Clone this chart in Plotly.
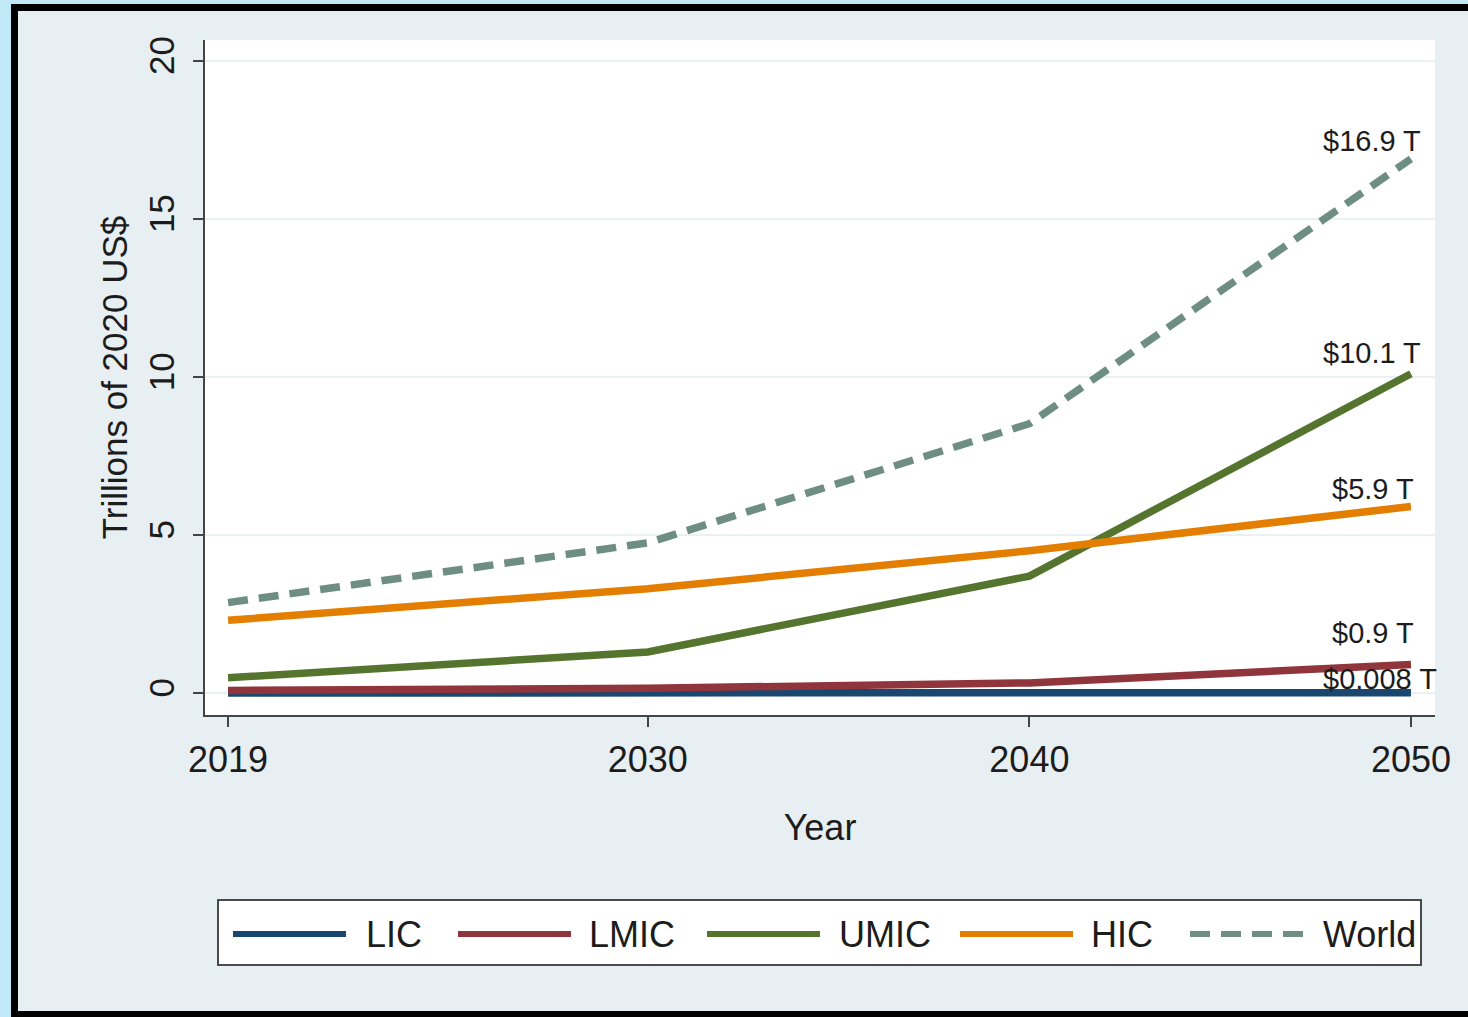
import plotly.graph_objects as go

# ---------------- data ----------------
years = [2019, 2030, 2040, 2050]
series_names = ["LIC", "LMIC", "UMIC", "HIC", "World"]
lic = [0.002, 0.004, 0.006, 0.008]
lmic = [0.08, 0.15, 0.32, 0.9]
umic = [0.48, 1.3, 3.7, 10.1]
hic = [2.3, 3.3, 4.5, 5.9]
world = [2.86, 4.75, 8.52, 16.9]
end_labels = ["$0.008 T", "$0.9 T", "$10.1 T", "$5.9 T", "$16.9 T"]
x_ticks = [2019, 2030, 2040, 2050]
y_ticks = [0, 5, 10, 15, 20]

series_values = [lic, lmic, umic, hic, world]

# ---------------- styles ----------------
colors = ["#1a476f", "#90353b", "#55752f", "#e37e00", "#6e8e84"]
dashes = ["solid", "solid", "solid", "solid", "20px,11px"]
FONT = "Liberation Sans, Arial, sans-serif"
TXT = "#1c1c1c"
W, H = 1468, 1017
L, R, T, B = 205, 33, 40, 302
PW, PH = W - L - R, H - T - B


def px(x):
    return (x - L) / PW


def py(y):
    return (H - B - y) / PH


fig = go.Figure()
for name, vals, c, d in zip(series_names, series_values, colors, dashes):
    fig.add_trace(go.Scatter(x=years, y=vals, mode="lines", name=name,
                             line=dict(color=c, width=7.5, dash=d),
                             showlegend=False))

# end-point labels (offsets in px)
label_shift = [(-31, 14), (-38, 32), (-39, 21), (-38, 18), (-39, 18)]
for vals, lab, (dx, dy) in zip(series_values, end_labels, label_shift):
    fig.add_annotation(x=years[-1], y=vals[-1], xref="x", yref="y", text=lab,
                       showarrow=False, xanchor="center", yanchor="middle",
                       xshift=dx, yshift=dy,
                       font=dict(family=FONT, size=29, color=TXT))

shapes = []
# outer frame
shapes.append(dict(type="rect", xref="paper", yref="paper", x0=px(0), x1=px(11),
                   y0=py(1017), y1=py(0), fillcolor="#c0e8f6", line_width=0, layer="below"))
shapes.append(dict(type="rect", xref="paper", yref="paper", x0=px(0), x1=px(W),
                   y0=py(4), y1=py(0), fillcolor="#c0e8f6", line_width=0, layer="below"))
shapes.append(dict(type="rect", xref="paper", yref="paper", x0=px(11), x1=px(18),
                   y0=py(1017), y1=py(4), fillcolor="black", line_width=0, layer="below"))
shapes.append(dict(type="rect", xref="paper", yref="paper", x0=px(11), x1=px(W),
                   y0=py(11), y1=py(4), fillcolor="black", line_width=0, layer="below"))
shapes.append(dict(type="rect", xref="paper", yref="paper", x0=px(11), x1=px(W),
                   y0=py(1017), y1=py(1011), fillcolor="black", line_width=0, layer="below"))

# legend box
shapes.append(dict(type="rect", xref="paper", yref="paper", x0=px(218), x1=px(1421),
                   y0=py(965), y1=py(900), fillcolor="white",
                   line=dict(color="#4a4a4a", width=2)))
leg_line_x = [233, 458, 707, 960, 1190]
leg_text_x = [364, 587, 837, 1089, 1321]
leg_y = 934
for name, c, d, lx, tx in zip(series_names, colors, dashes, leg_line_x, leg_text_x):
    shapes.append(dict(type="line", xref="paper", yref="paper", x0=px(lx), x1=px(lx + 113),
                       y0=py(leg_y), y1=py(leg_y), line=dict(color=c, width=6, dash=d)))
    fig.add_annotation(x=px(tx), y=py(leg_y), xref="paper", yref="paper", text=name,
                       showarrow=False, xanchor="left", yanchor="middle",
                       font=dict(family=FONT, size=36, color=TXT))

fig.update_layout(
    width=W, height=H,
    margin=dict(l=L, r=R, t=T, b=B, pad=0),
    paper_bgcolor="#e8eff2",
    plot_bgcolor="white",
    font=dict(family=FONT, size=35, color=TXT),
    shapes=shapes,
    showlegend=False,
    xaxis=dict(range=[2018.396, 2050.63], tickvals=x_ticks, showgrid=False, zeroline=False,
               showline=True, linecolor="#444", linewidth=2, ticks="outside", ticklen=10,
               tickwidth=2, tickcolor="#444", tickfont=dict(size=36), ticklabelstandoff=2,
               title=dict(text="Year", font=dict(size=36), standoff=36)),
    yaxis=dict(range=[-0.696, 20.66], tickvals=y_ticks, showgrid=True, gridcolor="#eaf1f3",
               gridwidth=1.5, zeroline=False, showline=True, linecolor="#444", linewidth=2,
               ticks="outside", ticklen=10, tickwidth=2, tickcolor="#444", tickangle=-90,
               tickfont=dict(size=35), ticklabelstandoff=5,
               title=dict(text="Trillions of 2020 US$", font=dict(size=35), standoff=4)),
)

fig.write_html("out.html", config={"displayModeBar": False},
               post_script="document.body.style.margin='0';document.body.style.overflow='hidden';")
